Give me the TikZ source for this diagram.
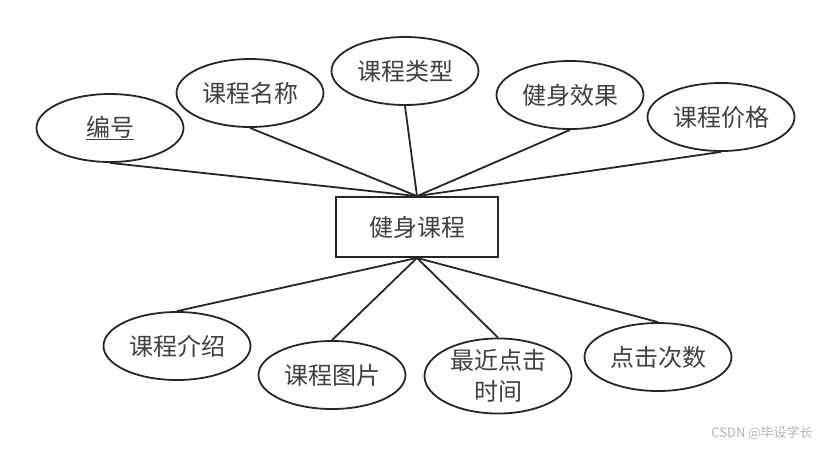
\documentclass[tikz,border=0pt]{standalone}
\usepackage{fontspec}
\setmainfont{Noto Sans CJK SC}
\usepackage{tikz}
\usetikzlibrary{shapes.geometric}

\begin{document}
\begin{tikzpicture}[x=1pt,y=-1pt,
    attr/.style={draw=black!85,line width=1.8pt,ellipse,minimum width=147pt,minimum height=68pt,inner sep=0pt,
      text=black!75,font=\fontsize{24}{31}\selectfont,align=center},
    entity/.style={draw=black!85,line width=1.8pt,rectangle,minimum width=162pt,minimum height=60pt,inner sep=0pt,
      text=black!75,font=\fontsize{24}{31}\selectfont},
    link/.style={draw=black!85,line width=1.8pt}]
    \useasboundingbox (0,0) rectangle (831,448);
    \node[entity] (kc) at (417,227) {健身课程};
    \node[attr] (bh) at (110,128) {\underline{编号}};
    \node[attr] (mc) at (250,93) {课程名称};
    \node[attr] (lx) at (405,71) {课程类型};
    \node[attr] (xg) at (570,95) {健身效果};
    \node[attr] (jg) at (721,117) {课程价格};
    \node[attr] (js) at (177,346) {课程介绍};
    \node[attr] (tp) at (332,375) {课程图片};
    \node[attr] (sj) at (498,376) {最近点击\\时间};
    \node[attr] (cs) at (658,357) {点击次数};
    \draw[link] (bh.south) -- (kc.north);
    \draw[link] (mc.south) -- (kc.north);
    \draw[link] (lx.south) -- (kc.north);
    \draw[link] (xg.south) -- (kc.north);
    \draw[link] (jg.south) -- (kc.north);
    \draw[link] (kc.south) -- (js.north);
    \draw[link] (kc.south) -- (tp.north);
    \draw[link] (kc.south) -- (sj.north);
    \draw[link] (kc.south) -- (cs.north);
    \node[text=black!30,font=\fontsize{13}{15}\selectfont] (wm) at (762,433) {CSDN @毕设学长};
  \end{tikzpicture}
\end{document}
